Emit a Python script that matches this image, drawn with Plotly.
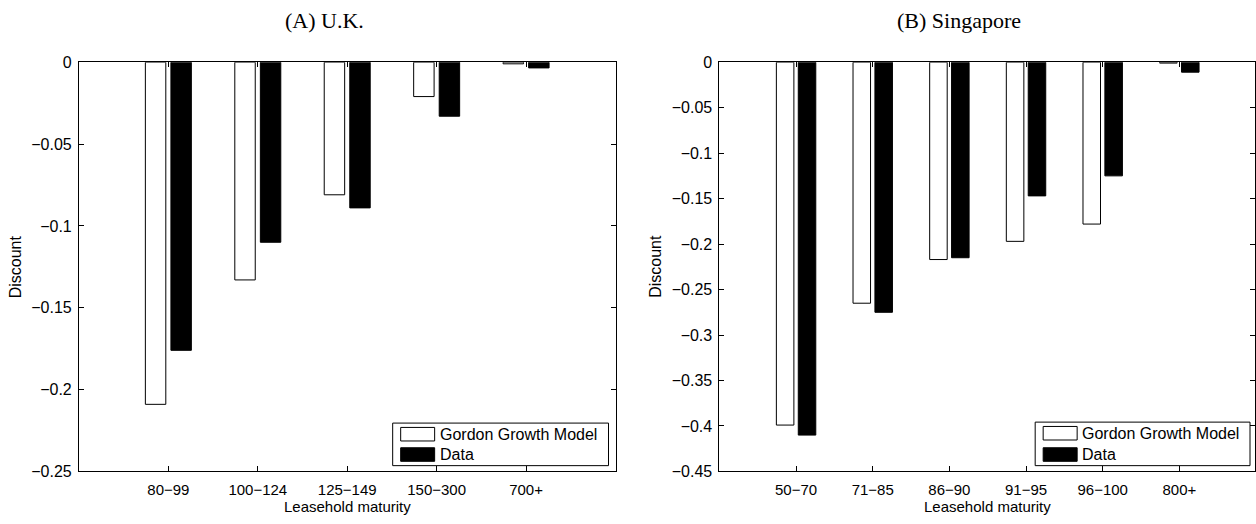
import plotly.graph_objects as go

# Leasehold discounts by remaining maturity: Gordon Growth Model vs. data
uk_categories = ["80−99", "100−124", "125−149", "150−300", "700+"]
uk_gordon = [-0.209, -0.133, -0.081, -0.021, -0.001]
uk_data = [-0.176, -0.110, -0.089, -0.033, -0.0035]

sg_categories = ["50−70", "71−85", "86−90", "91−95", "96−100", "800+"]
sg_gordon = [-0.399, -0.265, -0.217, -0.197, -0.178, -0.001]
sg_data = [-0.410, -0.275, -0.215, -0.147, -0.125, -0.011]

uk_yticks = [0, -0.05, -0.1, -0.15, -0.2, -0.25]
sg_yticks = [0, -0.05, -0.1, -0.15, -0.2, -0.25, -0.3, -0.35, -0.4, -0.45]

series_names = ["Gordon Growth Model", "Data"]

W, H = 1256, 524
FONT = "Liberation Sans, Arial, Helvetica, sans-serif"
SERIF = "Liberation Serif, DejaVu Serif, serif"
XTICK_SIZE = 15
YTICK_SIZE = 16
LABEL_SIZE = 16


def px(x):
    return x / W


def py(y):
    return 1 - y / H


# MATLAB-style grouped bars: group width 2/3.5, each bar 80% of its slot
group_w = 2 / 3.5
bar_w = group_w / 2 * 0.8

fig = go.Figure()


def add_panel(cats, gordon, data, xa, ya):
    xs = list(range(1, len(cats) + 1))
    fig.add_trace(go.Bar(
        x=xs, y=gordon, name=series_names[0], width=bar_w,
        offset=-group_w / 4 - bar_w / 2,
        marker=dict(color="white", line=dict(color="black", width=1)),
        xaxis=xa, yaxis=ya, showlegend=False))
    fig.add_trace(go.Bar(
        x=xs, y=data, name=series_names[1], width=bar_w,
        offset=group_w / 4 - bar_w / 2,
        marker=dict(color="black", line=dict(color="black", width=1)),
        xaxis=xa, yaxis=ya, showlegend=False))


add_panel(uk_categories, uk_gordon, uk_data, "x", "y")
add_panel(sg_categories, sg_gordon, sg_data, "x2", "y2")

y_dom = [py(479), py(56)]
axis_common = dict(
    showline=True, linecolor="black", linewidth=1, mirror="ticks",
    ticks="inside", ticklen=5, tickcolor="black", tickwidth=1,
    showgrid=False, zeroline=False,
)
xfont = dict(family=FONT, size=XTICK_SIZE, color="black")
yfont = dict(family=FONT, size=YTICK_SIZE, color="black")


def fmt(v):
    return ("%g" % v).replace("-", "−")


fig.update_layout(
    width=W, height=H,
    margin=dict(l=0, r=0, t=0, b=0),
    paper_bgcolor="white", plot_bgcolor="white",
    barmode="overlay",
    showlegend=False,
    xaxis=dict(domain=[px(79), px(616)], range=[0, 6], anchor="y",
               tickvals=list(range(1, len(uk_categories) + 1)),
               ticktext=uk_categories, ticklabelstandoff=5, tickfont=xfont, **axis_common),
    yaxis=dict(domain=y_dom, range=[-0.25, 0], anchor="x",
               tickvals=uk_yticks, ticktext=[fmt(v) for v in uk_yticks],
               ticklabelstandoff=3, tickfont=yfont, **axis_common),
    xaxis2=dict(domain=[px(720), 1.0], range=[0, 7 * 536 / 537], anchor="y2",
                tickvals=list(range(1, len(sg_categories) + 1)),
                ticktext=sg_categories, ticklabelstandoff=5, tickfont=xfont, **axis_common),
    yaxis2=dict(domain=y_dom, range=[-0.45, 0], anchor="x2",
                tickvals=sg_yticks, ticktext=[fmt(v) for v in sg_yticks],
                ticklabelstandoff=3, tickfont=yfont, **axis_common),
)

# Panel titles and axis labels
annotations = [
    dict(text="(A) U.K.", x=px(325), y=py(13), font=dict(family=SERIF, size=22)),
    dict(text="(B) Singapore", x=px(960), y=py(13), font=dict(family=SERIF, size=22)),
    dict(text="Leasehold maturity", x=px(347.5), y=py(515), font=dict(family=FONT, size=15)),
    dict(text="Leasehold maturity", x=px(988), y=py(515), font=dict(family=FONT, size=15)),
    dict(text="Discount", x=px(15), y=py(267), textangle=-90, font=dict(family=FONT, size=LABEL_SIZE)),
    dict(text="Discount", x=px(656), y=py(267), textangle=-90, font=dict(family=FONT, size=LABEL_SIZE)),
]

shapes = []


def add_legend(left, right, top, bottom):
    shapes.append(dict(type="rect", xref="paper", yref="paper",
                       x0=px(left), x1=px(right), y0=py(bottom), y1=py(top),
                       line=dict(color="black", width=1), fillcolor="white", layer="above"))
    row_y = [top + 11.5, bottom - 11.5]
    fills = ["white", "black"]
    for name, fill, yc in zip(series_names, fills, row_y):
        shapes.append(dict(type="rect", xref="paper", yref="paper",
                           x0=px(left + 8), x1=px(left + 42),
                           y0=py(yc + 7), y1=py(yc - 7),
                           line=dict(color="black", width=1), fillcolor=fill, layer="above"))
        annotations.append(dict(text=name, x=px(left + 45), y=py(yc), xanchor="left",
                                font=dict(family=FONT, size=LABEL_SIZE)))


add_legend(393, 609, 429, 473)
add_legend(1036, 1251, 428, 473)

for a in annotations:
    a.setdefault("xref", "paper")
    a.setdefault("yref", "paper")
    a.setdefault("xanchor", "center")
    a.setdefault("yanchor", "middle")
    a.setdefault("showarrow", False)
    a["font"].setdefault("color", "black")

fig.update_layout(annotations=annotations, shapes=shapes)

fig.write_html("out.html")
